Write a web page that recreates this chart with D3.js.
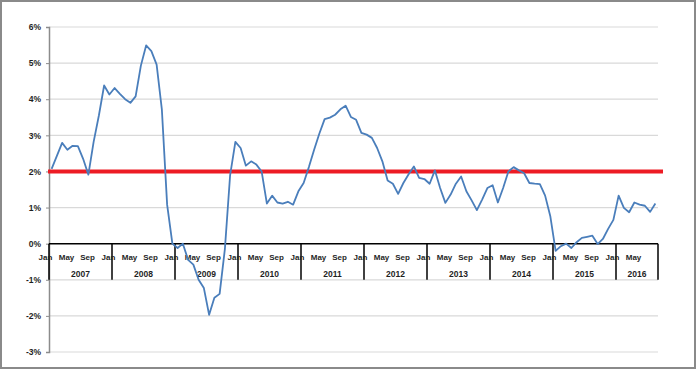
<!DOCTYPE html>
<html>
<head>
<meta charset="utf-8">
<script src="https://cdn.jsdelivr.net/npm/d3@7/dist/d3.min.js"></script>
<style>
  body { margin: 0; background: #fff; }
  svg { display: block; }
  text { font-family: "Liberation Sans", Arial, sans-serif; font-weight: bold; fill: #1f1f1f; }
</style>
</head>
<body>
<svg width="696" height="369"></svg>
<script>
// years on the x axis, month labels shown every 4 months
const years = ["2007", "2008", "2009", "2010", "2011", "2012", "2013", "2014", "2015", "2016"];
const monthLabels = ["Jan", "May", "Sep"];
const yTicks = [-3, -2, -1, 0, 1, 2, 3, 4, 5, 6];
const target = 2;

// monthly values (%), Jan 2007 - Aug 2016
const values = [
  2.07, 2.43, 2.79, 2.6, 2.71, 2.7, 2.35, 1.91, 2.82, 3.55, 4.38, 4.13,
  4.31, 4.15, 4.0, 3.9, 4.08, 4.93, 5.49, 5.33, 4.96, 3.71, 1.08, 0.0,
  -0.12, 0.0, -0.45, -0.58, -1.0, -1.23, -1.97, -1.5, -1.39, -0.15, 1.9, 2.82,
  2.65, 2.16, 2.28, 2.19, 2.0, 1.11, 1.33, 1.14, 1.11, 1.16, 1.08, 1.45,
  1.68, 2.12, 2.6, 3.05, 3.45, 3.49, 3.57, 3.72, 3.82, 3.51, 3.43, 3.07,
  3.02, 2.93, 2.65, 2.28, 1.75, 1.66, 1.38, 1.68, 1.92, 2.14, 1.82, 1.79,
  1.66, 2.03, 1.54, 1.13, 1.36, 1.66, 1.86, 1.45, 1.2, 0.93, 1.22, 1.54,
  1.62, 1.14, 1.54, 2.0, 2.12, 2.03, 1.95, 1.68, 1.66, 1.65, 1.33, 0.75,
  -0.2, -0.07, 0.0, -0.12, 0.04, 0.16, 0.19, 0.22, -0.01, 0.13, 0.41, 0.66,
  1.33, 0.99, 0.87, 1.14, 1.08, 1.05, 0.88, 1.11
];

const svg = d3.select("svg");

// frame around the whole picture
svg.append("rect")
  .attr("x", 1).attr("y", 1)
  .attr("width", 694).attr("height", 367)
  .attr("fill", "#fff")
  .attr("stroke", "#8a8a8a")
  .attr("stroke-width", 2);

const x = d3.scaleBand()
  .domain(d3.range(values.length))
  .range([49, 658]);

const y = d3.scaleLinear()
  .domain([-3, 6])
  .range([352, 27]);

const left = x.range()[0];
const right = x.range()[1];

// gridlines
svg.append("g")
  .selectAll("line")
  .data(yTicks.filter((d) => d !== 0))
  .enter()
  .append("line")
  .attr("x1", left)
  .attr("x2", right)
  .attr("y1", (d) => y(d))
  .attr("y2", (d) => y(d))
  .attr("stroke", "#d9d9d9")
  .attr("stroke-width", 1.2);

// y axis
const yAxis = svg.append("g")
  .attr("transform", `translate(${left},0)`)
  .call(
    d3.axisLeft(y)
      .tickValues(yTicks)
      .tickSize(3)
      .tickPadding(5)
      .tickFormat((d) => d + "%")
  );
yAxis.select(".domain").attr("stroke", "#8c8c8c").attr("stroke-width", 1.5);
yAxis.selectAll(".tick line").attr("stroke", "#8c8c8c");
yAxis.selectAll("text")
  .style("font-size", "8.5px")
  .attr("fill", "#1f1f1f");

// x axis with two levels (months and years)
const xAxis = svg.append("g");
xAxis.append("line")
  .attr("x1", left)
  .attr("x2", right)
  .attr("y1", y(0))
  .attr("y2", y(0))
  .attr("stroke", "#000")
  .attr("stroke-width", 1.5);

const bounds = years.map((yr, k) => x(k * 12)).concat([right]);
xAxis.selectAll(".sep")
  .data(bounds)
  .enter()
  .append("line")
  .attr("class", "sep")
  .attr("x1", (d) => d)
  .attr("x2", (d) => d)
  .attr("y1", y(0))
  .attr("y2", y(-1))
  .attr("stroke", "#000")
  .attr("stroke-width", 1.5);

const monthIdx = d3.range(values.length).filter((i) => i % 4 === 0);
xAxis.selectAll(".month")
  .data(monthIdx)
  .enter()
  .append("text")
  .attr("class", "month")
  .attr("x", (i) => x(i) - 3.5)
  .attr("y", y(0) + 16)
  .attr("text-anchor", "middle")
  .style("font-size", "8px")
  .text((i) => monthLabels[(i % 12) / 4]);

xAxis.selectAll(".year")
  .data(years)
  .enter()
  .append("text")
  .attr("class", "year")
  .attr("x", (d, k) => (bounds[k] + bounds[k + 1]) / 2)
  .attr("y", y(-1) - 3)
  .attr("text-anchor", "middle")
  .style("font-size", "8.5px")
  .text((d) => d);

// 2% target line
svg.append("line")
  .attr("x1", left - 1)
  .attr("x2", right + 5)
  .attr("y1", y(target))
  .attr("y2", y(target))
  .attr("stroke", "#ed1c24")
  .attr("stroke-width", 4);

// data line
const line = d3.line()
  .x((d, i) => x(i) + x.bandwidth() / 2)
  .y((d) => y(d));

svg.append("path")
  .datum(values)
  .attr("d", line)
  .attr("fill", "none")
  .attr("stroke", "#4a7ebb")
  .attr("stroke-width", 1.8)
  .attr("stroke-linejoin", "round");
</script>
</body>
</html>
